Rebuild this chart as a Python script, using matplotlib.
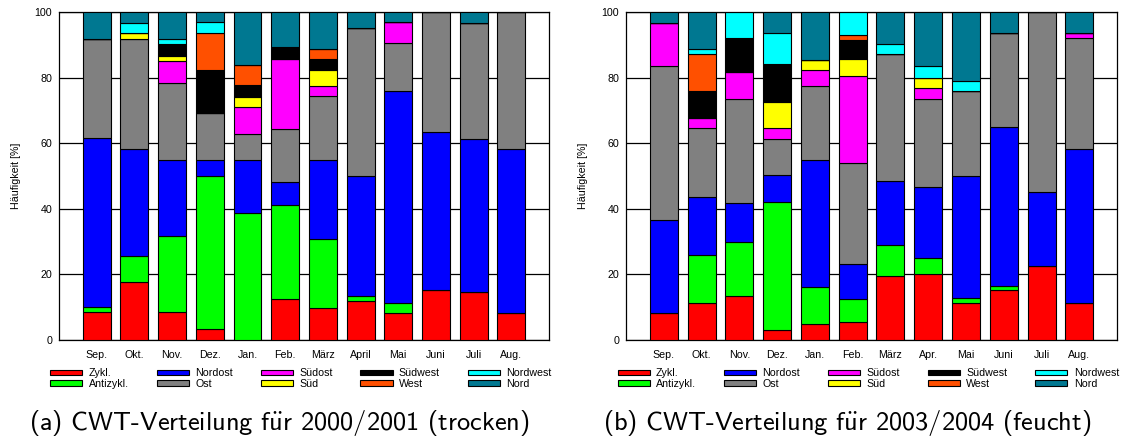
import matplotlib.pyplot as plt
import numpy as np

plt.rcParams['font.family'] = ['Liberation Sans', 'DejaVu Sans']
plt.rcParams['mathtext.fontset'] = 'cm'

categories = ["Zykl.", "Antizykl.", "Nordost", "Ost", "Südost", "Süd",
              "Südwest", "West", "Nordwest", "Nord"]
colors = ["#ff0000", "#00ff00", "#0000ff", "#808080", "#ff00ff", "#ffff00",
          "#000000", "#ff5000", "#00ffff", "#007891"]

months_a = ["Sep.", "Okt.", "Nov.", "Dez.", "Jan.", "Feb.", "März", "April",
            "Mai", "Juni", "Juli", "Aug."]
months_b = ["Sep.", "Okt.", "Nov.", "Dez.", "Jan.", "Feb.", "März", "Apr.",
            "Mai", "Juni", "Juli", "Aug."]

# 2000/2001 (trocken), Häufigkeit in %
zykl_a     = [8.4, 17.8, 8.4, 3.3, 0, 12.6, 9.7, 11.8, 8.1, 15.1, 14.5, 8.1]
antizykl_a = [1.7, 7.9, 23.3, 46.7, 38.8, 28.4, 21.0, 1.5, 3.1, 0, 0, 0]
nordost_a  = [51.6, 32.4, 23.3, 4.8, 16.0, 7.1, 24.1, 36.8, 64.7, 48.3, 46.8, 50.1]
ost_a      = [30.1, 33.7, 23.3, 14.5, 8.1, 16.2, 19.5, 44.9, 14.5, 36.6, 35.3, 41.8]
suedost_a  = [0, 0, 6.7, 0, 8.1, 21.3, 3.0, 0, 6.4, 0, 0, 0]
sued_a     = [0, 1.7, 1.5, 0, 3.1, 0, 4.9, 0, 0, 0, 0, 0]
suedwest_a = [0, 0, 3.6, 13.1, 3.5, 3.8, 3.3, 0, 0, 0, 0, 0]
west_a     = [0, 0, 0, 11.2, 6.2, 0, 3.2, 0, 0, 0, 0, 0]
nordwest_a = [0, 3.1, 1.6, 3.2, 0, 0, 0, 0, 0, 0, 0, 0]
nord_a     = [8.2, 3.4, 8.3, 3.2, 16.2, 10.6, 11.3, 5.0, 3.2, 0, 3.4, 0]

# 2003/2004 (feucht)
zykl_b     = [8.3, 11.3, 13.4, 3.2, 4.9, 5.5, 19.4, 20.0, 11.4, 15.1, 22.7, 11.4]
antizykl_b = [0, 14.6, 16.6, 38.8, 11.4, 7.0, 9.7, 5.1, 1.5, 1.5, 0, 0]
nordost_b  = [28.4, 17.7, 11.7, 8.2, 38.7, 10.8, 19.3, 21.6, 37.2, 48.4, 22.5, 46.7]
ost_b      = [46.7, 20.9, 31.7, 11.2, 22.5, 30.5, 38.7, 26.7, 25.7, 28.5, 54.8, 33.9]
suedost_b  = [13.3, 3.1, 8.2, 3.1, 4.9, 26.7, 0, 3.3, 0, 0, 0, 1.6]
sued_b     = [0, 0, 0, 8.0, 3.0, 5.1, 0, 3.3, 0, 0, 0, 0]
suedwest_b = [0, 8.4, 10.3, 11.6, 0, 5.7, 0, 0, 0, 0, 0, 0]
west_b     = [0, 11.1, 0, 0, 0, 1.7, 0, 0, 0, 0, 0, 0]
nordwest_b = [0, 1.5, 8.1, 9.5, 0, 7.0, 3.2, 3.4, 3.2, 0, 0, 0]
nord_b     = [3.3, 11.4, 0, 6.4, 14.6, 0, 9.7, 16.6, 21.0, 6.5, 0, 6.4]

series_a = [zykl_a, antizykl_a, nordost_a, ost_a, suedost_a, sued_a,
            suedwest_a, west_a, nordwest_a, nord_a]
series_b = [zykl_b, antizykl_b, nordost_b, ost_b, suedost_b, sued_b,
            suedwest_b, west_b, nordwest_b, nord_b]

fs = 7.7
fig = plt.figure(figsize=(11.27, 4.41), dpi=100)
ax1 = fig.add_axes([0.0524, 0.229, 0.4348, 0.744])
ax2 = fig.add_axes([0.5555, 0.229, 0.4357, 0.744])


def draw(ax, series, months, legend_x, caption, caption_x):
    x = np.arange(len(months))
    bottom = np.zeros(len(months))
    handles = []
    for vals, c, lab in zip(series, colors, categories):
        vals = np.array(vals, dtype=float)
        h = ax.bar(x, vals, width=0.74, bottom=bottom, color=c,
                   edgecolor='black', linewidth=0.8, label=lab, zorder=3)
        handles.append(h)
        bottom += vals
    ax.set_xlim(-1, 12)
    ax.set_ylim(0, 100)
    ax.set_yticks([0, 20, 40, 60, 80, 100])
    ax.set_xticks(x)
    ax.set_xticklabels(months)
    ax.tick_params(length=0, labelsize=fs)
    ax.tick_params(axis='x', pad=7)
    ax.tick_params(axis='y', pad=5)
    ax.set_axisbelow(True)
    ax.yaxis.grid(True, color='black', linewidth=0.9)
    for s in ax.spines.values():
        s.set_linewidth(0.9)
    ax.set_ylabel("Häufigkeit [%]", fontsize=fs, labelpad=10)
    fig.legend(handles, categories, ncol=5, loc='upper left',
               bbox_to_anchor=(legend_x, 0.165), frameon=False,
               fontsize=fs, borderpad=0, borderaxespad=0,
               handlelength=3.0, handleheight=0.45, handletextpad=0.6,
               labelspacing=0.05, columnspacing=2.6)
    fig.text(caption_x, 0.04, caption, ha='center', va='center',
             fontsize=19, family=['cmss10', 'DejaVu Sans'])


draw(ax1, series_a, months_a, 0.0445,
     r"(a) CWT-Verteilung f$\mathsf{\ddot{u}}$r 2000/2001 (trocken)", 0.2475)
draw(ax2, series_b, months_b, 0.548,
     r"(b) CWT-Verteilung f$\mathsf{\ddot{u}}$r 2003/2004 (feucht)", 0.7515)

fig.savefig("out.png", dpi=100)
